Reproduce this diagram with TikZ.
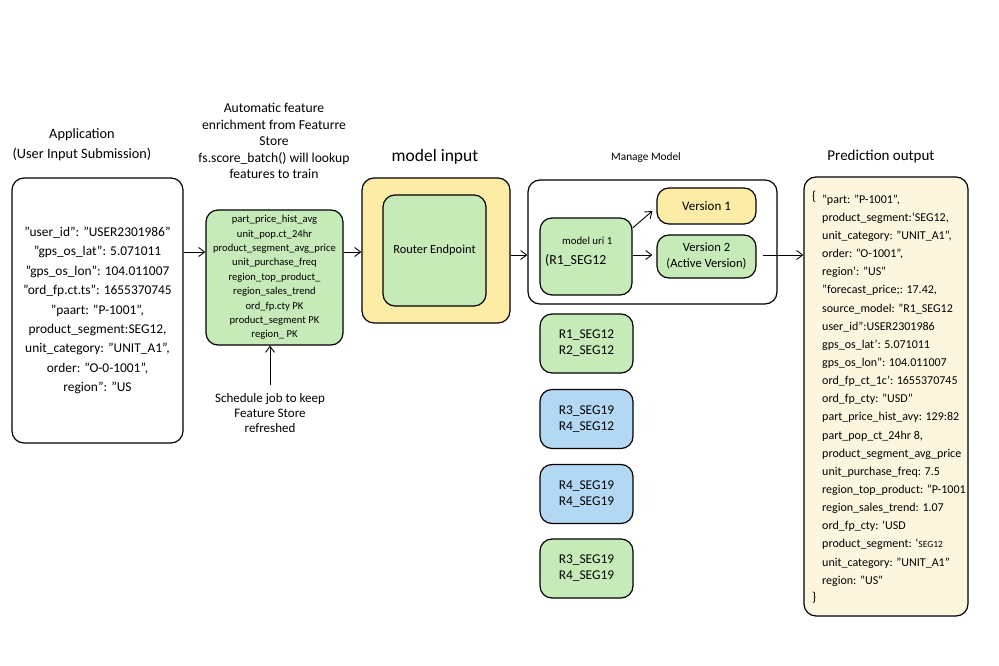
\documentclass[tikz,border=0pt]{standalone}
\usepackage{fontspec}
\setmainfont{Carlito}
\usetikzlibrary{arrows.meta,positioning}
\definecolor{boxgreen}{HTML}{C6EBB9}
\definecolor{boxyellow}{HTML}{FCECA6}
\definecolor{boxblue}{HTML}{B3D8F4}
\definecolor{boxcream}{HTML}{FDF6DF}
\tikzset{
  box/.style={draw=black, line width=1.2pt, rounded corners=12pt, inner sep=0pt},
  arr/.style={-{Straight Barb[length=6pt,width=9pt]}, line width=0.9pt},
  lbl/.style={inner sep=0pt, align=center},
  fs/.style={font=\fontsize{#1}{#1}\selectfont}
}
\begin{document}
\begin{tikzpicture}[x=1pt,y=-1pt]
\useasboundingbox[fill=white] (0,0) rectangle (999,666);
% helper rows
\coordinate (rowA) at (0,252);
\coordinate (rowB) at (0,255);
% application
\node[lbl, font=\fontsize{14.3}{20}\selectfont] (apptitle) at (82,145) {Application\\(User Input Submission)};
\node[box, minimum width=171pt, minimum height=265pt, align=center, font=\fontsize{13.4}{19.4}\selectfont] (app) at (97.5,310.5)
  {"user\_id": "USER2301986"\\
   "gps\_os\_lat": 5.071011\\
   "gps\_os\_lon": 104.011007\\
   "ord\_fp.ct.ts": 1655370745\\
   "paart: "P-1001",\\
   product\_segment:SEG12,\\
   unit\_category: "UNIT\_A1",\\
   order: "O-0-1001",\\
   region": "US};
% feature store
\node[lbl, font=\fontsize{13.6}{16.5}\selectfont] (fstitle) at (274,141)
  {Automatic feature\\enrichment from Featurre\\Store\\fs.score\_batch() will lookup\\features to train};
\node[box, fill=boxgreen, minimum width=137pt, minimum height=135pt, align=center, font=\fontsize{10.6}{14.4}\selectfont] (feat) at (274.5,277.5)
  {part\_price\_hist\_avg\\
   unit\_pop.ct\_24hr\\
   product\_segment\_avg\_price\\
   unit\_purchase\_freq\\
   region\_top\_product\_\\
   region\_sales\_trend\\
   ord\_fp.cty PK\\
   product\_segment PK\\
   region\_ PK};
\node[lbl, font=\fontsize{13}{15}\selectfont] (sched) at (270,413) {Schedule job to keep\\Feature Store\\refreshed};
% model input
\node[lbl, fs=17.5] (mititle) at (435,157) {model input};
\node[box, fill=boxyellow, minimum width=148pt, minimum height=145pt] (yel) at (436,250.5) {};
\node[box, fill=boxgreen, minimum width=103pt, minimum height=111pt, fs=12.4] (router) at (434.5,250.5) {Router Endpoint};
% manage model
\node[lbl, fs=11.3] (mgtitle) at (646,158) {Manage Model};
\node[box, minimum width=249pt, minimum height=124pt] (mg) at (652.5,242) {};
\node[box, fill=boxgreen, minimum width=92pt, minimum height=77pt] (uri) at (586,256.5) {};
\node[lbl, fs=10.8, anchor=west] (urit1) at (562,241) {model uri 1};
\node[lbl, fs=13.8, anchor=west] (urit2) at (545,260) {(R1\_SEG12};
\node[box, fill=boxyellow, minimum width=99pt, minimum height=36pt, fs=13] (v1) at (706.5,206) {Version 1};
\node[box, fill=boxgreen, minimum width=99pt, minimum height=43pt, align=center, font=\fontsize{12.6}{16}\selectfont] (v2) at (706.5,256.5) {Version 2\\(Active Version)};
% segment boxes
\tikzset{seg/.style={box, minimum width=93pt, minimum height=59pt, align=center, font=\fontsize{13.4}{16}\selectfont}}
\node[seg, fill=boxgreen] (s1) at (586.5,343.5) {R1\_SEG12\\R2\_SEG12};
\node[seg, fill=boxblue] (s2) at (586.5,419) {R3\_SEG19\\R4\_SEG12};
\node[seg, fill=boxblue] (s3) at (586.5,494) {R4\_SEG19\\R4\_SEG19};
\node[seg, fill=boxgreen] (s4) at (586.5,568.5) {R3\_SEG19\\R4\_SEG19};
% prediction output
\node[lbl, fs=15] (outtitle) at (881,157) {Prediction output};
\node[box, fill=boxcream, minimum width=164pt, minimum height=439pt] (out) at (886,396.5) {};
\node[lbl, fs=13, anchor=west] (ob1) at (812,197) {\{};
\node[lbl, fs=13, anchor=west] (ob2) at (812,598) {\}};
\node[inner sep=0pt, align=left, anchor=west, font=\fontsize{12}{18.15}\selectfont] (outtext) at (822,390.5)
  {"part: "P-1001",\\
   product\_segment:`SEG12,\\
   unit\_category: "UNIT\_A1",\\
   order: "O-1001",\\
   region': "US"\\
   "forecast\_price;: 17.42,\\
   source\_model: "R1\_SEG12\\
   user\_id":USER2301986\\
   gps\_os\_lat': 5.071011\\
   gps\_os\_lon": 104.011007\\
   ord\_fp\_ct\_1c': 1655370745\\
   ord\_fp\_cty: "USD"\\
   part\_price\_hist\_avy: 129:82\\
   part\_pop\_ct\_24hr 8,\\
   product\_segment\_avg\_price\\
   unit\_purchase\_freq: 7.5\\
   region\_top\_product: "P-1001\\
   region\_sales\_trend: 1.07\\
   ord\_fp\_cty: 'USD\\
   product\_segment: `{\fontsize{9.5}{9.5}\selectfont SEG12}\\
   unit\_category: "UNIT\_A1"\\
   region: "US"};
% connectors
\draw[arr] (app.east |- rowA) -- (feat.west |- rowA);
\draw[arr] (feat.east |- rowA) -- (yel.west |- rowA);
\draw[arr] (yel.east |- rowB) -- (mg.west |- rowB);
\draw[arr] ([yshift=8pt]sched.north) -- (sched.north |- feat.south);
\draw[arr] ([yshift=28.5pt]uri.east) -- ([xshift=-4pt,yshift=-5pt]v1.west);
\draw[arr] (uri.east |- rowB) -- ([xshift=-4pt]v2.west |- rowB);
\draw[arr] ([xshift=6pt]v2.east |- rowB) -- (out.west |- rowB);
\end{tikzpicture}
\end{document}
